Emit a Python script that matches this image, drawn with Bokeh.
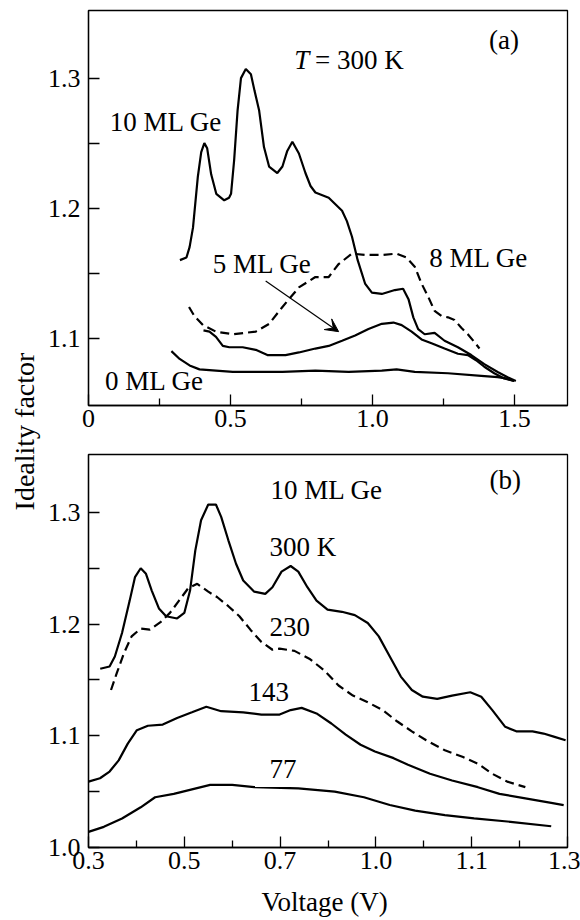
import math
from bokeh.plotting import figure
from bokeh.models import Range1d, FixedTicker, Label, Arrow, VeeHead, CustomJSTickFormatter
from bokeh.layouts import row, column
from bokeh.embed import file_html
from bokeh.resources import INLINE

FONT = "'Liberation Serif', 'Times New Roman', serif"

# ---------------- panel (a): T = 300 K, different Ge coverage ----------------
a10_v = [0.322, 0.345, 0.356, 0.368, 0.385, 0.397, 0.408, 0.418, 0.432, 0.450,
         0.478, 0.495, 0.502, 0.513, 0.525, 0.537, 0.554, 0.572, 0.585, 0.601,
         0.618, 0.636, 0.665, 0.683, 0.700, 0.718, 0.741, 0.764, 0.782, 0.799,
         0.846, 0.893, 0.910, 0.928, 0.948, 0.974, 0.998, 1.033, 1.079, 1.108,
         1.127, 1.144, 1.161, 1.184, 1.219, 1.254, 1.301, 1.348, 1.394, 1.441,
         1.476, 1.505]
a10_n = [1.160, 1.162, 1.170, 1.185, 1.224, 1.243, 1.250, 1.246, 1.226, 1.211,
         1.206, 1.208, 1.211, 1.237, 1.275, 1.300, 1.307, 1.303, 1.290, 1.275,
         1.247, 1.232, 1.227, 1.232, 1.244, 1.251, 1.242, 1.227, 1.217, 1.212,
         1.208, 1.198, 1.190, 1.178, 1.160, 1.142, 1.135, 1.134, 1.137, 1.138,
         1.130, 1.116, 1.107, 1.103, 1.104, 1.098, 1.093, 1.087, 1.080, 1.074,
         1.070, 1.067]

a8_v = [0.354, 0.373, 0.403, 0.449, 0.508, 0.589, 0.636, 0.683, 0.741, 0.799,
        0.846, 0.881, 0.928, 0.974, 1.033, 1.085, 1.120, 1.149, 1.173, 1.196,
        1.219, 1.243, 1.266, 1.289, 1.313, 1.336, 1.359, 1.377]
a8_n = [1.124, 1.117, 1.110, 1.105, 1.103, 1.105, 1.111, 1.124, 1.139, 1.147,
        1.147, 1.157, 1.165, 1.164, 1.164, 1.165, 1.162, 1.155, 1.142, 1.132,
        1.121, 1.117, 1.116, 1.114, 1.108, 1.103, 1.097, 1.092]

a5_v = [0.405, 0.426, 0.449, 0.473, 0.496, 0.543, 0.589, 0.630, 0.659, 0.694,
        0.741, 0.799, 0.846, 0.893, 0.939, 0.986, 1.033, 1.074, 1.103, 1.138,
        1.173, 1.208, 1.254, 1.301, 1.336, 1.365, 1.394, 1.429, 1.464, 1.499]
a5_n = [1.106, 1.105, 1.101, 1.094, 1.093, 1.093, 1.091, 1.087, 1.087, 1.087,
        1.089, 1.092, 1.094, 1.098, 1.102, 1.107, 1.111, 1.112, 1.110, 1.105,
        1.099, 1.096, 1.092, 1.088, 1.087, 1.083, 1.078, 1.073, 1.069, 1.067]

a0_v = [0.292, 0.321, 0.356, 0.391, 0.449, 0.508, 0.589, 0.683, 0.799, 0.916,
        1.033, 1.085, 1.149, 1.266, 1.383, 1.441, 1.470, 1.499]
a0_n = [1.090, 1.084, 1.079, 1.076, 1.075, 1.074, 1.074, 1.074, 1.075, 1.074,
        1.075, 1.076, 1.074, 1.073, 1.071, 1.070, 1.069, 1.067]

a_xticks = [0.0, 0.5, 1.0, 1.5]
a_xtick_labels = ["0", "0.5", "1.0", "1.5"]
a_xminor = [0.25, 0.75, 1.25]
a_yticks = [1.1, 1.2, 1.3]
a_ytick_labels = ["1.1", "1.2", "1.3"]
a_yminor = [1.15, 1.25]

# ---------------- panel (b): 10 ML Ge, different temperatures ----------------
b300_v = [0.3245, 0.344, 0.355, 0.370, 0.386, 0.397, 0.409, 0.420, 0.432, 0.447,
          0.462, 0.485, 0.500, 0.512, 0.523, 0.535, 0.550, 0.566, 0.577, 0.592,
          0.608, 0.623, 0.646, 0.669, 0.684, 0.703, 0.722, 0.738, 0.757, 0.776,
          0.799, 0.829, 0.856, 0.883, 0.906, 0.929, 0.952, 0.975, 0.998, 1.028,
          1.059, 1.097, 1.120, 1.143, 1.170, 1.193, 1.227, 1.250, 1.273, 1.296]
b300_n = [1.160, 1.162, 1.171, 1.192, 1.221, 1.242, 1.250, 1.245, 1.230, 1.214,
          1.207, 1.205, 1.210, 1.230, 1.266, 1.293, 1.307, 1.307, 1.296, 1.275,
          1.254, 1.239, 1.229, 1.227, 1.233, 1.247, 1.252, 1.247, 1.233, 1.221,
          1.213, 1.211, 1.208, 1.201, 1.189, 1.171, 1.153, 1.141, 1.135, 1.133,
          1.136, 1.139, 1.135, 1.123, 1.108, 1.104, 1.104, 1.102, 1.099, 1.096]

b230_v = [0.347, 0.359, 0.374, 0.390, 0.409, 0.428, 0.451, 0.470, 0.489, 0.508,
          0.527, 0.550, 0.569, 0.592, 0.615, 0.638, 0.661, 0.684, 0.699, 0.730,
          0.761, 0.791, 0.822, 0.852, 0.883, 0.914, 0.944, 0.975, 1.005, 1.044,
          1.082, 1.113, 1.143, 1.174, 1.212]
b230_n = [1.141, 1.156, 1.174, 1.189, 1.196, 1.195, 1.202, 1.210, 1.221, 1.232,
          1.236, 1.229, 1.224, 1.216, 1.207, 1.195, 1.184, 1.177, 1.178, 1.176,
          1.169, 1.159, 1.145, 1.136, 1.130, 1.123, 1.113, 1.104, 1.096, 1.087,
          1.081, 1.075, 1.066, 1.059, 1.054]

b143_v = [0.300, 0.324, 0.344, 0.363, 0.382, 0.401, 0.424, 0.455, 0.485, 0.516,
          0.546, 0.577, 0.623, 0.661, 0.699, 0.722, 0.745, 0.776, 0.807, 0.837,
          0.868, 0.898, 0.937, 0.967, 1.013, 1.059, 1.113, 1.158, 1.212, 1.266,
          1.292]
b143_n = [1.059, 1.062, 1.068, 1.078, 1.093, 1.105, 1.109, 1.110, 1.116, 1.121,
          1.126, 1.122, 1.121, 1.119, 1.119, 1.123, 1.125, 1.120, 1.111, 1.101,
          1.092, 1.086, 1.080, 1.074, 1.066, 1.060, 1.054, 1.048, 1.044, 1.040,
          1.038]

b77_v = [0.300, 0.332, 0.370, 0.409, 0.439, 0.478, 0.516, 0.554, 0.600, 0.646,
         0.738, 0.814, 0.875, 0.929, 0.982, 1.044, 1.105, 1.181, 1.266]
b77_n = [1.014, 1.0185, 1.026, 1.036, 1.045, 1.048, 1.052, 1.056, 1.056, 1.054,
         1.053, 1.050, 1.045, 1.038, 1.033, 1.029, 1.026, 1.023, 1.019]

b_xticks = [0.3, 0.5, 0.7, 0.9, 1.1, 1.3]
b_xtick_labels = ["0.3", "0.5", "0.7", "1.0", "1.1", "1.3"]
b_xminor = [0.4, 0.6, 0.8, 1.0, 1.2]
b_yticks = [1.0, 1.1, 1.2, 1.3]
b_ytick_labels = ["1.0", "1.1", "1.2", "1.3"]
b_yminor = [1.05, 1.15, 1.25]

LW = 2.2
DASH = "9 5"
TICK_FS = "26px"
TEXT_FS = "27px"


def fmt(tvals, tlabels):
    return CustomJSTickFormatter(args=dict(tvals=tvals, tlabels=tlabels), code="""
        for (let i = 0; i < tvals.length; i++) {
            if (Math.abs(tvals[i] - tick) < 1e-6) { return tlabels[i]; }
        }
        return "";
    """)


def style(p, xt, xl, xm, yt, yl, ym):
    p.xgrid.visible = False
    p.ygrid.visible = False
    p.outline_line_color = "black"
    p.outline_line_width = 1.3
    p.background_fill_color = "white"
    p.border_fill_color = "white"
    p.xaxis.ticker = FixedTicker(ticks=xt, minor_ticks=xm)
    p.yaxis.ticker = FixedTicker(ticks=yt, minor_ticks=ym)
    p.xaxis.formatter = fmt(xt, xl)
    p.yaxis.formatter = fmt(yt, yl)
    for ax in (p.xaxis[0], p.yaxis[0]):
        ax.axis_line_width = 1.3
        ax.axis_line_color = "black"
        ax.major_tick_out = 0
        ax.minor_tick_out = 0
        ax.major_tick_in = 11
        ax.major_tick_line_width = 1.3
        ax.minor_tick_line_width = 1.3
        ax.major_tick_line_color = "black"
        ax.minor_tick_line_color = "black"
        ax.major_label_text_font = FONT
        ax.major_label_text_font_size = TICK_FS
        ax.major_label_text_color = "black"
    p.xaxis.minor_tick_in = 7
    p.yaxis.minor_tick_in = 11
    p.xaxis.major_label_standoff = 4
    p.yaxis.major_label_standoff = 8


def label(p, x, y, text, align="left", style_="normal", size=TEXT_FS):
    p.add_layout(Label(x=x, y=y, text=text, text_font=FONT, text_font_size=size,
                       text_align=align, text_baseline="middle", text_color="black",
                       text_font_style=style_))


# ---- y-axis title shared by both panels ----
pl = figure(width=44, height=920, x_range=Range1d(0, 44), y_range=Range1d(0, 920),
            toolbar_location=None, output_backend="svg", min_border=0,
            x_axis_location=None, y_axis_location=None)
pl.xgrid.visible = False
pl.ygrid.visible = False
pl.outline_line_color = None
pl.add_layout(Label(x=24, y=489, text="Ideality factor", angle=math.pi / 2,
                    text_align="center", text_baseline="middle", text_font=FONT,
                    text_font_size="28px", text_color="black"))

# ---- panel (a) ----
pa = figure(width=536, height=443, x_range=Range1d(0, 1.687), y_range=Range1d(1.0482, 1.352),
            toolbar_location=None, output_backend="svg",
            min_border_left=41, min_border_right=13, min_border_top=10, min_border_bottom=38)
style(pa, a_xticks, a_xtick_labels, a_xminor, a_yticks, a_ytick_labels, a_yminor)
pa.line(a10_v, a10_n, line_color="black", line_width=LW)
pa.line(a8_v, a8_n, line_color="black", line_width=LW, line_dash=DASH)
pa.line(a5_v, a5_n, line_color="black", line_width=LW)
pa.line(a0_v, a0_n, line_color="black", line_width=LW)
pa.add_layout(Arrow(end=VeeHead(size=13, fill_color="black", line_color="black", line_width=1),
                    x_start=0.624, y_start=1.144, x_end=0.881, y_end=1.105,
                    line_color="black", line_width=1.2))
label(pa, 1.463, 1.329, "(a)", align="center")
label(pa, 0.7245, 1.3136, "T", style_="italic")
label(pa, 0.798, 1.3136, "= 300 K")
label(pa, 0.075, 1.266, "10 ML Ge")
label(pa, 0.438, 1.157, "5 ML Ge")
label(pa, 1.200, 1.162, "8 ML Ge")
label(pa, 0.058, 1.0674, "0 ML Ge")

# ---- panel (b) ----
pb = figure(width=536, height=477, x_range=Range1d(0.3, 1.3), y_range=Range1d(1.0, 1.3518),
            toolbar_location=None, output_backend="svg",
            min_border_left=40, min_border_right=12, min_border_top=11, min_border_bottom=73)
style(pb, b_xticks, b_xtick_labels, b_xminor, b_yticks, b_ytick_labels, b_yminor)
pb.xaxis.axis_label = "Voltage  (V)"
pb.xaxis.axis_label_text_font = FONT
pb.xaxis.axis_label_text_font_size = "27px"
pb.xaxis.axis_label_text_font_style = "normal"
pb.xaxis.axis_label_text_color = "black"
pb.xaxis.axis_label_standoff = 15
pb.line(b300_v, b300_n, line_color="black", line_width=LW)
pb.line(b230_v, b230_n, line_color="black", line_width=LW, line_dash=DASH)
pb.line(b143_v, b143_n, line_color="black", line_width=LW)
pb.line(b77_v, b77_n, line_color="black", line_width=LW)
label(pb, 1.170, 1.329, "(b)", align="center")
label(pb, 0.680, 1.320, "10 ML Ge")
label(pb, 0.678, 1.2687, "300 K")
label(pb, 0.678, 1.1976, "230")
label(pb, 0.634, 1.1394, "143")
label(pb, 0.678, 1.0707, "77")

layout = row(pl, column(pa, pb))
open("out.html", "w").write(file_html(layout, INLINE))
